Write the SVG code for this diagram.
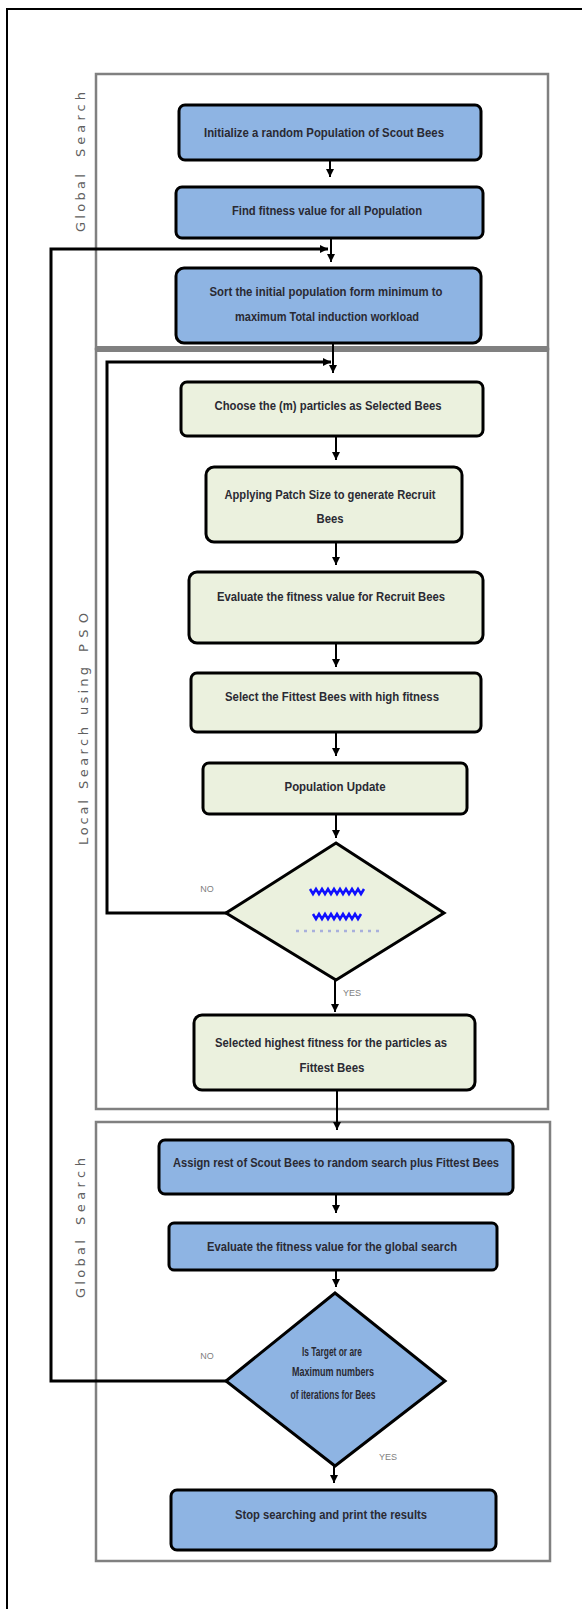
<svg xmlns="http://www.w3.org/2000/svg" width="582" height="1609" viewBox="0 0 582 1609">
<style>
.grp{fill:none;stroke:#808080;stroke-width:2.5}
.blue{fill:#8EB4E3;stroke:#000;stroke-width:3}
.cream{fill:#EBF1DE;stroke:#000;stroke-width:3}
.t{font-family:"Liberation Sans",Arial,sans-serif;font-size:12px;font-weight:bold;fill:#2a2a33;text-anchor:middle}
.lab{font-family:"Liberation Sans",Arial,sans-serif;font-size:9px;fill:#808080;text-anchor:middle}
.vt{font-family:"DejaVu Sans",Verdana,sans-serif;font-size:13px;fill:#606060}
.con{fill:none;stroke:#000;stroke-width:2}
.loop{fill:none;stroke:#000;stroke-width:3}
.sq{fill:none;stroke:#1010ff;stroke-width:2.5}
</style>
<defs>
<marker id="arr" markerWidth="8" markerHeight="8" refX="8" refY="4" orient="auto" markerUnits="userSpaceOnUse">
<path d="M0,0 L8,4 L0,8 z" fill="#000"/>
</marker>
</defs>
<path d="M7,1609 V9 H582" fill="none" stroke="#000" stroke-width="2"/>
<g id="groups">
<rect class="grp" x="96" y="74" width="452" height="275"/>
<rect class="grp" x="96" y="349" width="452" height="760"/>
<rect x="96" y="346" width="453" height="6" fill="#808080"/>
<rect class="grp" x="96" y="1122" width="454" height="439"/>
<text class="vt" transform="translate(85,232) rotate(-90)"><tspan textLength="58" lengthAdjust="spacing">Global</tspan><tspan x="75" textLength="65" lengthAdjust="spacing">Search</tspan></text>
<text class="vt" transform="translate(88,845) rotate(-90)"><tspan textLength="45" lengthAdjust="spacing">Local</tspan><tspan x="56" textLength="62" lengthAdjust="spacing">Search</tspan><tspan x="130" textLength="48" lengthAdjust="spacing">using</tspan><tspan x="193" textLength="39" lengthAdjust="spacing">PSO</tspan></text>
<text class="vt" transform="translate(85,1298) rotate(-90)"><tspan textLength="58" lengthAdjust="spacing">Global</tspan><tspan x="73" textLength="67" lengthAdjust="spacing">Search</tspan></text>
</g>
<g id="connectors">
<path class="con" d="M330,160 V177" marker-end="url(#arr)"/>
<path class="con" d="M331,238 V262" marker-end="url(#arr)"/>
<path class="con" d="M333,343 V373" marker-end="url(#arr)"/>
<path class="con" d="M336,436 V460" marker-end="url(#arr)"/>
<path class="con" d="M336,542 V565" marker-end="url(#arr)"/>
<path class="con" d="M336,643 V667" marker-end="url(#arr)"/>
<path class="con" d="M336,732 V756" marker-end="url(#arr)"/>
<path class="con" d="M336,814 V838" marker-end="url(#arr)"/>
<path class="con" d="M335,980 V1012" marker-end="url(#arr)"/>
<path class="con" d="M337,1090 V1130" marker-end="url(#arr)"/>
<path class="con" d="M336,1194 V1213" marker-end="url(#arr)"/>
<path class="con" d="M336,1270 V1287" marker-end="url(#arr)"/>
<path class="con" d="M334,1466 V1483" marker-end="url(#arr)"/>
<path class="loop" d="M226,1381 H51 V249 H328" marker-end="url(#arr)"/>
<path class="loop" d="M226,913 H107 V362 H331" marker-end="url(#arr)"/>
<text class="lab" x="207" y="892">NO</text>
<text class="lab" x="352" y="996">YES</text>
<text class="lab" x="207" y="1359">NO</text>
<text class="lab" x="388" y="1460">YES</text>
</g>
<g id="n1"><rect class="blue" x="179" y="105" width="302" height="55" rx="6"/><text class="t" x="324" y="137" textLength="240" lengthAdjust="spacingAndGlyphs">Initialize a random Population of Scout Bees</text></g>
<g id="n2"><rect class="blue" x="176" y="187" width="307" height="51" rx="6"/><text class="t" x="327" y="215" textLength="190" lengthAdjust="spacingAndGlyphs">Find fitness value for all Population</text></g>
<g id="n3"><rect class="blue" x="176" y="268" width="305" height="75" rx="8"/><text class="t" x="326" y="296" textLength="233" lengthAdjust="spacingAndGlyphs">Sort the initial population form minimum to</text><text class="t" x="327" y="321" textLength="184" lengthAdjust="spacingAndGlyphs">maximum Total induction workload</text></g>
<g id="n4"><rect class="cream" x="181" y="382" width="302" height="54" rx="6"/><text class="t" x="328" y="410" textLength="227" lengthAdjust="spacingAndGlyphs">Choose the (m) particles as Selected Bees</text></g>
<g id="n5"><rect class="cream" x="206" y="467" width="256" height="75" rx="8"/><text class="t" x="330" y="499" textLength="211" lengthAdjust="spacingAndGlyphs">Applying Patch Size to generate Recruit</text><text class="t" x="330" y="523" textLength="27" lengthAdjust="spacingAndGlyphs">Bees</text></g>
<g id="n6"><rect class="cream" x="189" y="572" width="294" height="71" rx="8"/><text class="t" x="331" y="601" textLength="228" lengthAdjust="spacingAndGlyphs">Evaluate  the fitness value for Recruit Bees</text></g>
<g id="n7"><rect class="cream" x="191" y="673" width="290" height="59" rx="6"/><text class="t" x="332" y="701" textLength="214" lengthAdjust="spacingAndGlyphs">Select the Fittest Bees with high fitness</text></g>
<g id="n8"><rect class="cream" x="203" y="763" width="264" height="51" rx="6"/><text class="t" x="335" y="791" textLength="101" lengthAdjust="spacingAndGlyphs">Population Update</text></g>
<g id="n9"><polygon class="cream" points="336,843 444,913 336,980 226,913"/>
<polyline class="sq" points="310,889 313,894 316,889 319,894 322,889 325,894 328,889 331,894 334,889 337,894 340,889 343,894 346,889 349,894 352,889 355,894 358,889 361,894 364,889"/>
<polyline class="sq" points="313,914 316,919 319,914 322,919 325,914 328,919 331,914 334,919 337,914 340,919 343,914 346,919 349,914 352,919 355,914 358,919 361,914"/>
<path d="M296,931 H380" stroke="#a8b0dc" stroke-width="2.5" stroke-dasharray="3,5"/></g>
<g id="n10"><rect class="cream" x="194" y="1015" width="281" height="75" rx="8"/><text class="t" x="331" y="1047" textLength="232" lengthAdjust="spacingAndGlyphs">Selected highest fitness for the particles as</text><text class="t" x="332" y="1072" textLength="65" lengthAdjust="spacingAndGlyphs">Fittest Bees</text></g>
<g id="n11"><rect class="blue" x="159" y="1140" width="354" height="54" rx="6"/><text class="t" x="336" y="1167" textLength="326" lengthAdjust="spacingAndGlyphs">Assign  rest of Scout Bees to random search plus Fittest Bees</text></g>
<g id="n12"><rect class="blue" x="169" y="1223" width="328" height="47" rx="5"/><text class="t" x="332" y="1251" textLength="250" lengthAdjust="spacingAndGlyphs">Evaluate  the fitness value for the global search</text></g>
<g id="n13"><polygon class="blue" points="335,1293 445,1381 335,1466 226,1381"/><text class="t" x="332" y="1356" textLength="60" lengthAdjust="spacingAndGlyphs">Is Target or are</text><text class="t" x="333" y="1376" textLength="82" lengthAdjust="spacingAndGlyphs">Maximum numbers</text><text class="t" x="333" y="1399" textLength="85" lengthAdjust="spacingAndGlyphs">of iterations for Bees</text></g>
<g id="n14"><rect class="blue" x="171" y="1490" width="325" height="60" rx="6"/><text class="t" x="331" y="1519" textLength="192" lengthAdjust="spacingAndGlyphs">Stop searching and print the results</text></g>
</svg>
